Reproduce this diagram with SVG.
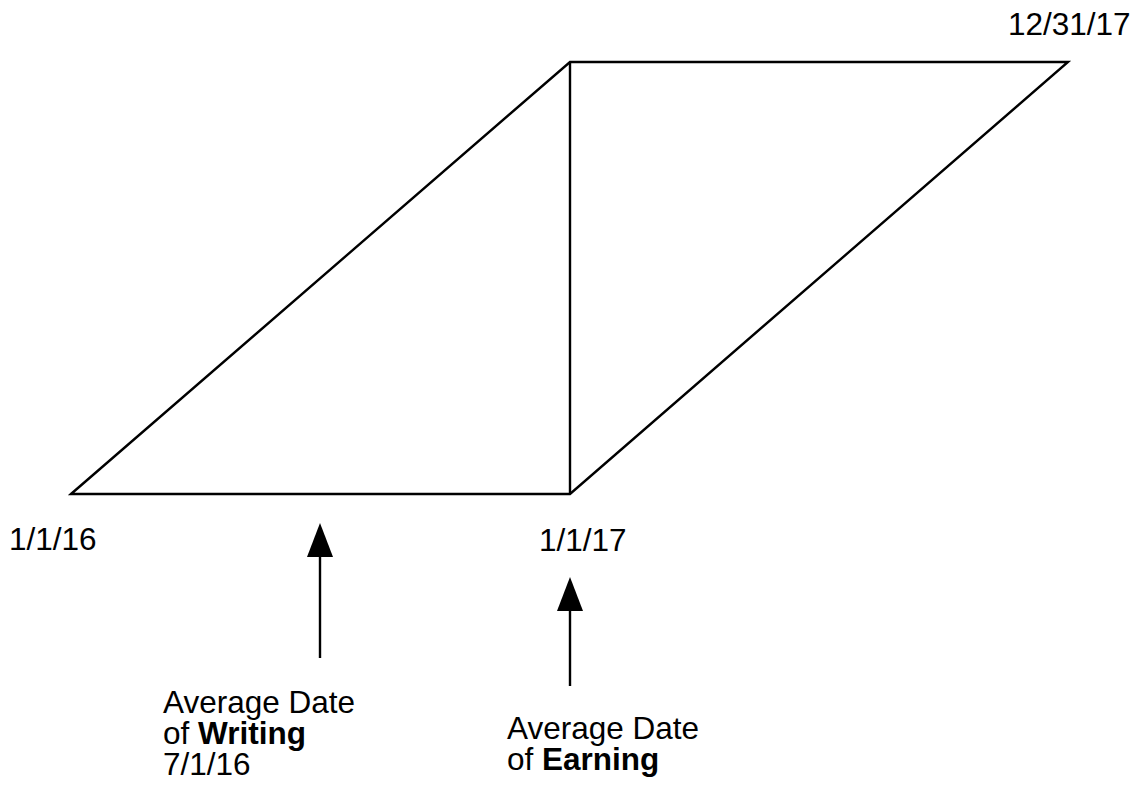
<svg xmlns="http://www.w3.org/2000/svg" width="1135" height="792" viewBox="0 0 1135 792">
<style>
.ln{stroke:#000;stroke-width:2.4;fill:none}
.t{font-family:"Liberation Sans",Arial,sans-serif;font-size:31.5px;fill:#000}
.b{font-weight:bold}
</style>
<defs>
<marker id="ah" markerUnits="userSpaceOnUse" markerWidth="34" markerHeight="26" refX="0" refY="13" orient="auto" viewBox="0 0 34 26">
<path d="M0,0 L34,13 L0,26 Z" fill="#000"/>
</marker>
</defs>
<rect width="1135" height="792" fill="#fff"/>
<g id="shape">
<polygon class="ln" points="71,494 570,62 1068,62 570,494"/>
<line class="ln" x1="570" y1="62" x2="570" y2="494"/>
</g>
<g id="connectors">
<line class="ln" x1="320" y1="658" x2="320" y2="557" marker-end="url(#ah)"/>
<line class="ln" x1="570" y1="686" x2="570" y2="611" marker-end="url(#ah)"/>
</g>
<g id="label-1-1-16"><text class="t" x="9" y="550">1/1/16</text></g>
<g id="label-1-1-17"><text class="t" x="539" y="551">1/1/17</text></g>
<g id="label-12-31-17"><text class="t" x="1008" y="35">12/31/17</text></g>
<g id="label-writing">
<text class="t" x="163" y="713">Average Date</text>
<text class="t" x="163" y="744">of <tspan class="b">Writing</tspan></text>
<text class="t" x="163" y="775">7/1/16</text>
</g>
<g id="label-earning">
<text class="t" x="507" y="739">Average Date</text>
<text class="t" x="507" y="770">of <tspan class="b">Earning</tspan></text>
</g>
</svg>
